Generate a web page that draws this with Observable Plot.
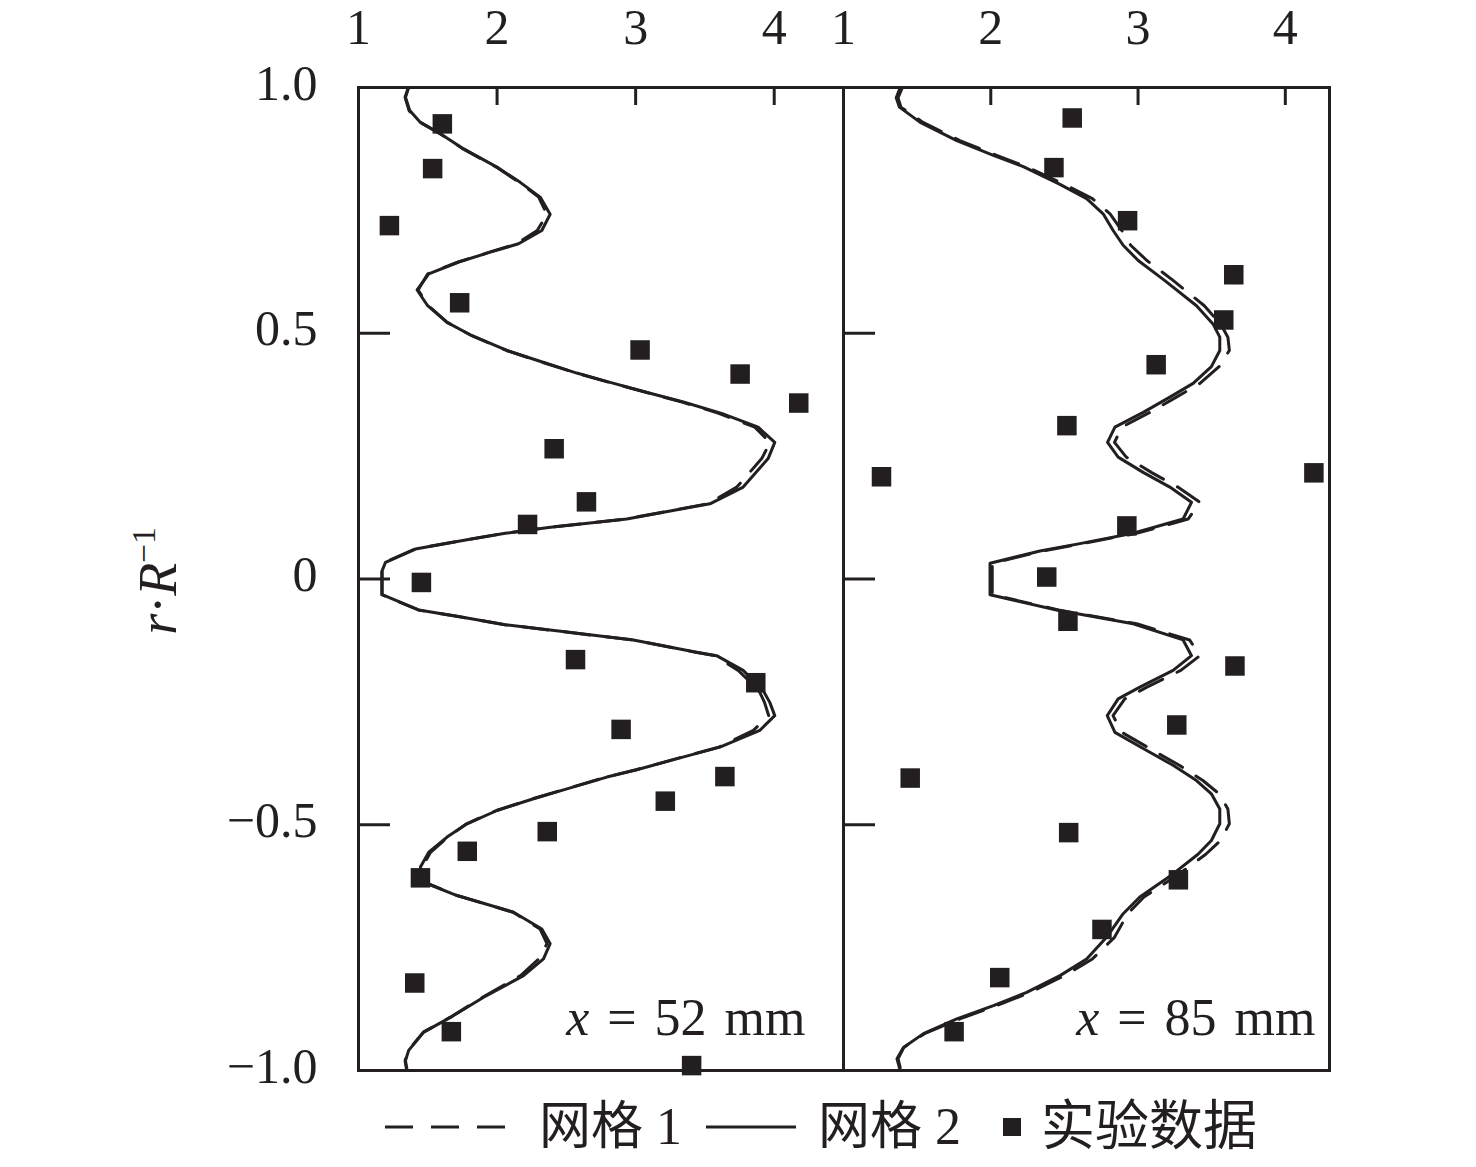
<!DOCTYPE html>
<html>
<head>
<meta charset="utf-8">
<script src="https://cdn.jsdelivr.net/npm/d3@7"></script>
<script src="https://cdn.jsdelivr.net/npm/@observablehq/plot@0.6"></script>
<style>
  body { margin: 0; background: #ffffff; }
  #wrap { position: relative; width: 1476px; height: 1167px; font-family: "Liberation Serif", "Noto Sans CJK SC", serif; color: #231f20; }
  #wrap svg.panel { position: absolute; left: 0; top: 0; }
  #legend { position: absolute; left: 385px; top: 1097px; display: flex; align-items: center; font-size: 52px; line-height: 60px; white-space: nowrap; }
</style>
</head>
<body>
<div id="wrap"><div id="legend"></div></div>
<script>
// ---------- data ----------
const xTicks = [1, 2, 3, 4];
const xTickLabels = ["1", "2", "3", "4"];
const yTicks = [-1, -0.5, 0, 0.5, 1];
const yTickLabels = ["−1.0", "−0.5", "0", "0.5", "1.0"];
const legendLabels = ["网格 1", "网格 2", "实验数据"];
const panelLabels = ["x = 52 mm", "x = 85 mm"];
const yLabelText = "r·R−1";

// x = 52 mm : curve profiles (y = r/R, x = value)
const y52 = [1.0, 0.980, 0.953, 0.929, 0.906, 0.875, 0.838, 0.807, 0.777, 0.742, 0.709, 0.682, 0.665, 0.645, 0.621, 0.588, 0.556, 0.522, 0.495, 0.465, 0.445, 0.419, 0.400, 0.378, 0.360, 0.337, 0.309, 0.278, 0.245, 0.187, 0.153, 0.136, 0.122, 0.105, 0.093, 0.080, 0.061, 0.034, 0.017, -0.032, -0.063, -0.076, -0.093, -0.108, -0.124, -0.149, -0.156, -0.186, -0.227, -0.251, -0.278, -0.308, -0.342, -0.364, -0.388, -0.403, -0.427, -0.447, -0.471, -0.498, -0.525, -0.556, -0.586, -0.617, -0.644, -0.678, -0.712, -0.742, -0.773, -0.807, -0.851, -0.892, -0.922, -0.959, -0.980, -1.0];
const x52grid2 = [1.362, 1.339, 1.370, 1.447, 1.591, 1.759, 1.999, 2.167, 2.311, 2.383, 2.323, 2.155, 1.951, 1.723, 1.507, 1.423, 1.499, 1.639, 1.819, 2.071, 2.287, 2.575, 2.816, 3.104, 3.344, 3.620, 3.884, 4.004, 3.956, 3.776, 3.536, 3.200, 2.936, 2.371, 2.059, 1.783, 1.411, 1.195, 1.171, 1.171, 1.434, 1.711, 2.059, 2.504, 2.983, 3.440, 3.584, 3.776, 3.920, 3.968, 4.004, 3.896, 3.608, 3.320, 3.008, 2.792, 2.504, 2.263, 1.999, 1.783, 1.639, 1.507, 1.447, 1.471, 1.711, 2.119, 2.323, 2.383, 2.335, 2.191, 1.903, 1.663, 1.471, 1.362, 1.339, 1.351];
const x52grid1 = [1.360, 1.336, 1.365, 1.445, 1.588, 1.755, 1.995, 2.160, 2.300, 2.360, 2.290, 2.140, 1.945, 1.720, 1.500, 1.430, 1.505, 1.640, 1.818, 2.068, 2.283, 2.570, 2.810, 3.098, 3.336, 3.600, 3.860, 3.970, 3.910, 3.730, 3.520, 3.195, 2.930, 2.368, 2.056, 1.780, 1.408, 1.192, 1.168, 1.168, 1.432, 1.708, 2.056, 2.500, 2.978, 3.432, 3.570, 3.740, 3.890, 3.930, 3.960, 3.850, 3.600, 3.315, 3.004, 2.788, 2.500, 2.260, 1.996, 1.780, 1.645, 1.520, 1.460, 1.478, 1.712, 2.115, 2.310, 2.360, 2.300, 2.170, 1.895, 1.660, 1.468, 1.360, 1.336, 1.348];
const sq52x = [1.605, 1.535, 1.223, 1.730, 3.032, 3.754, 4.177, 2.412, 2.645, 2.220, 1.454, 2.566, 3.867, 2.895, 3.644, 3.214, 2.362, 1.785, 1.447, 1.406, 1.670, 3.404];
const sq52y = [0.926, 0.835, 0.719, 0.562, 0.466, 0.417, 0.358, 0.265, 0.157, 0.111, -0.007, -0.164, -0.211, -0.306, -0.402, -0.452, -0.514, -0.554, -0.608, -0.822, -0.921, -0.990];

// x = 85 mm
const y85 = [1.0, 0.979, 0.960, 0.929, 0.892, 0.862, 0.839, 0.803, 0.774, 0.743, 0.709, 0.679, 0.648, 0.607, 0.556, 0.519, 0.492, 0.465, 0.432, 0.398, 0.370, 0.339, 0.309, 0.278, 0.248, 0.217, 0.187, 0.156, 0.122, 0.093, 0.072, 0.057, 0.032, -0.032, -0.063, -0.091, -0.124, -0.156, -0.186, -0.220, -0.244, -0.278, -0.312, -0.345, -0.379, -0.410, -0.437, -0.468, -0.498, -0.532, -0.560, -0.600, -0.647, -0.681, -0.729, -0.773, -0.807, -0.841, -0.868, -0.895, -0.925, -0.953, -0.976, -1.0];
const x85grid2 = [1.385, 1.358, 1.380, 1.521, 1.769, 2.018, 2.221, 2.470, 2.651, 2.763, 2.831, 2.899, 3.001, 3.182, 3.397, 3.509, 3.555, 3.555, 3.498, 3.374, 3.216, 3.035, 2.843, 2.793, 2.865, 3.035, 3.216, 3.363, 3.306, 2.967, 2.605, 2.334, 1.995, 1.995, 2.447, 2.967, 3.306, 3.363, 3.238, 3.012, 2.865, 2.791, 2.843, 3.035, 3.238, 3.397, 3.498, 3.555, 3.555, 3.498, 3.407, 3.238, 3.012, 2.899, 2.786, 2.651, 2.470, 2.244, 2.018, 1.769, 1.543, 1.407, 1.363, 1.385];
const x85grid1 = [1.400, 1.370, 1.390, 1.540, 1.790, 2.040, 2.240, 2.500, 2.690, 2.810, 2.890, 2.950, 3.060, 3.240, 3.450, 3.560, 3.610, 3.620, 3.550, 3.420, 3.260, 3.080, 2.890, 2.840, 2.920, 3.090, 3.270, 3.420, 3.340, 2.990, 2.620, 2.350, 2.010, 2.010, 2.460, 2.990, 3.350, 3.420, 3.290, 3.060, 2.910, 2.830, 2.890, 3.080, 3.280, 3.440, 3.550, 3.610, 3.620, 3.560, 3.460, 3.280, 3.040, 2.930, 2.840, 2.690, 2.500, 2.270, 2.040, 1.790, 1.550, 1.410, 1.370, 1.390];
const sq85x = [2.553, 2.429, 2.929, 3.650, 3.582, 3.123, 2.517, 1.258, 4.194, 2.924, 2.380, 2.524, 3.658, 3.263, 1.453, 2.529, 3.274, 2.755, 2.061, 1.751];
const sq85y = [0.938, 0.837, 0.729, 0.619, 0.527, 0.436, 0.312, 0.208, 0.216, 0.108, 0.004, -0.086, -0.177, -0.297, -0.405, -0.516, -0.612, -0.713, -0.811, -0.921];

// ---------- drawing ----------
const INK = "#231f20";
const W = 1476, H = 1100;
const toRows = (xs, ys) => xs.map((x, i) => ({x, y: ys[i]}));
const xLabelMap = new Map(xTicks.map((t, i) => [t, xTickLabels[i]]));
const yLabelMap = new Map(yTicks.map((t, i) => [t, yTickLabels[i]]));

function panel({xDomain, marginLeft, marginRight, g1, g2, pts, label, labelDx, withYLabels}) {
  const marks = [
    Plot.axisX({anchor: "top", ticks: xTicks, tickSize: -17, tickFormat: () => "", strokeWidth: 3, stroke: INK, label: null}),
    Plot.axisX({anchor: "top", ticks: xTicks, tickSize: 0, tickPadding: 44, tickFormat: d => xLabelMap.get(d), fill: INK, label: null}),
    Plot.axisY({anchor: "left", ticks: yTicks, tickSize: -32, tickFormat: () => "", strokeWidth: 3, stroke: INK, label: null}),
    Plot.line(g1, {x: "x", y: "y", stroke: INK, strokeWidth: 3, strokeDasharray: "26,16", curve: "linear"}),
    Plot.line(g2, {x: "x", y: "y", stroke: INK, strokeWidth: 3, curve: "linear"}),
    Plot.dot(pts, {x: "x", y: "y", symbol: "square", r: 11, fill: INK, stroke: null}),
    Plot.text([label], {frameAnchor: "bottom-right", dx: labelDx, dy: -36, textAnchor: "end", fontSize: 52, fill: INK}),
    Plot.frame({stroke: INK, strokeWidth: 3})
  ];
  if (withYLabels) {
    marks.push(Plot.axisY({anchor: "left", ticks: yTicks, tickSize: 0, tickPadding: 41, dy: -4, tickFormat: d => yLabelMap.get(d), fill: INK, label: null}));
    marks.push(Plot.text([yLabelText], {frameAnchor: "left", dx: -200, dy: 2, rotate: -90, textAnchor: "middle", fontSize: 54, fill: INK}));
  }
  const svg = Plot.plot({
    width: W, height: H,
    marginLeft, marginRight, marginTop: 87, marginBottom: 30,
    x: {domain: xDomain},
    y: {domain: [-1, 1]},
    style: {background: "transparent", fontSize: "50px", fontFamily: "'Liberation Serif', 'Noto Sans CJK SC', serif", color: INK, overflow: "visible"},
    marks
  });
  svg.classList.add("panel");
  // rich-text formatting (italic variables, superscript)
  d3.select(svg).selectAll("text").each(function () {
    const t = d3.select(this);
    const s = this.textContent;
    if (s === label) {
      const rest = s.slice(1);
      t.text(null).attr("word-spacing", "5px");
      t.append("tspan").attr("font-style", "italic").text(s[0]);
      t.append("tspan").text(rest);
    } else if (s === yLabelText) {
      t.text(null);
      t.append("tspan").attr("font-style", "italic").text("r");
      t.append("tspan").text("·");
      t.append("tspan").attr("font-style", "italic").text("R");
      t.append("tspan").attr("font-size", "62%").attr("dy", "-0.62em").text("−1");
    }
  });
  return svg;
}

const wrap = document.getElementById("wrap");
wrap.appendChild(panel({
  xDomain: [1, 4.5], marginLeft: 358, marginRight: W - 843,
  g1: toRows(x52grid1, y52), g2: toRows(x52grid2, y52), pts: toRows(sq52x, sq52y),
  label: panelLabels[0], labelDx: -38, withYLabels: true
}));
wrap.appendChild(panel({
  xDomain: [1, 4.3], marginLeft: 843, marginRight: W - 1329,
  g1: toRows(x85grid1, y85), g2: toRows(x85grid2, y85), pts: toRows(sq85x, sq85y),
  label: panelLabels[1], labelDx: -14, withYLabels: false
}));

// legend
const legend = d3.select("#legend");
const sw1 = legend.append("svg").attr("width", 120).attr("height", 10);
sw1.append("line").attr("x1", 0).attr("x2", 120).attr("y1", 5).attr("y2", 5).attr("stroke", INK).attr("stroke-width", 3).attr("stroke-dasharray", "28,18");
legend.append("span").style("margin-left", "34px").text(legendLabels[0]);
const sw2 = legend.append("svg").attr("width", 90).attr("height", 10).style("margin-left", "24px");
sw2.append("line").attr("x1", 0).attr("x2", 90).attr("y1", 5).attr("y2", 5).attr("stroke", INK).attr("stroke-width", 3);
legend.append("span").style("margin-left", "22px").text(legendLabels[1]);
const sw3 = legend.append("svg").attr("width", 18).attr("height", 18).style("margin-left", "42px");
sw3.append("rect").attr("x", 0).attr("y", 0).attr("width", 18).attr("height", 18).attr("fill", INK);
legend.append("span").style("margin-left", "20px").style("font-size", "54px").text(legendLabels[2]);
</script>
</body>
</html>
